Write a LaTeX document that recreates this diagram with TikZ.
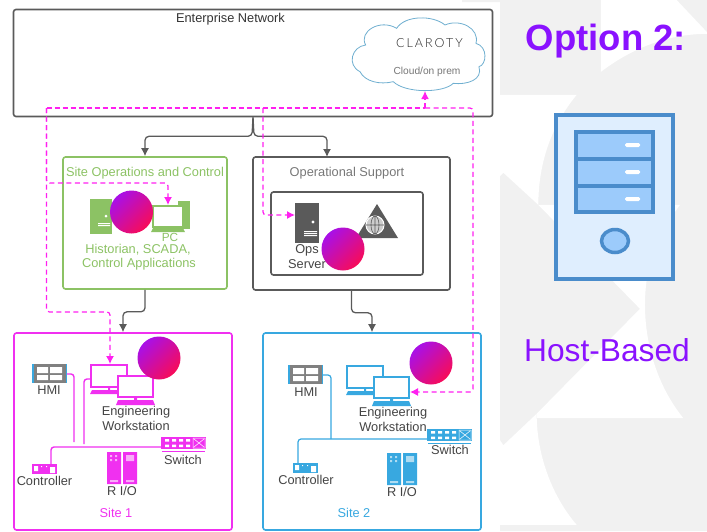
\documentclass[tikz,border=0pt]{standalone}
\usepackage{fontspec}
\setmainfont{Liberation Sans}
\newfontfamily\logofont{Lato Light}[LetterSpace=16]
\usetikzlibrary{positioning,arrows.meta}
\definecolor{linegray}{HTML}{5A5A5A}
\definecolor{textgray}{HTML}{444444}
\definecolor{softgray}{HTML}{777777}
\definecolor{panelgray}{HTML}{F1F1F1}
\definecolor{sitegreen}{HTML}{8CC264}
\definecolor{sitemag}{HTML}{F030F0}
\definecolor{siteblue}{HTML}{38A8E0}
\definecolor{dashmag}{HTML}{FF20F0}
\definecolor{optpurple}{HTML}{8A12FF}
\definecolor{rackblue}{HTML}{4A8CCB}
\definecolor{rackfill}{HTML}{9CCBFB}
\definecolor{caseblue}{HTML}{DFEEFE}
\definecolor{cloudblue}{HTML}{6FAFD0}
\definecolor{dotpurple}{HTML}{A810E8}
\definecolor{dotpink}{HTML}{E010B0}
\definecolor{dotrose}{HTML}{F80C58}
\tikzset{
  netbox/.style = {draw, rectangle, rounded corners=2.5, line width=1.6, inner sep=0},
  lbl/.style = {inner sep=0, font=\fontsize{12.8}{14}\selectfont, text=textgray},
  graylink/.style = {draw=linegray, line width=1.3, rounded corners=4, -{Latex[length=8pt,width=8pt]}},
  dashlink/.style = {draw=dashmag, line width=1.2, dash pattern=on 5pt off 3.5pt, rounded corners=3},
  dashbold/.style = {dashlink, line width=1.8, dash pattern=on 5.5pt off 2.5pt},
  dashtip/.style = {-{Latex[length=8pt,width=8pt]}},
  hostdot/.style = {circle, minimum size=43, inner sep=0, top color=dotpurple,
    middle color=dotpink, bottom color=dotrose, shading angle=45},
  pics/wsicon/.style = {code = {
    \path[draw=#1, line width=1.4, fill=white] (0,0) rectangle (36,22);
    \path[fill=#1] (17,22) rectangle (19,25) (1,25) -- (35,25) -- (37,29) -- (-1,29) -- cycle;
    \path[draw=#1, line width=1.4, fill=white] (27,11) rectangle (62,32);
    \path[fill=#1] (43,32) rectangle (46,35) (27,35) -- (62,35) -- (64,40) -- (25,40) -- cycle;
    \coordinate (-port) at (0,14);
  }},
  pics/hmicon/.style = {code = {
    \path[fill=siteblue] (0,0) rectangle (35,19);
    \path[fill=gray] (1.5,0) rectangle (33.5,19);
    \path[fill=white] (5,3) rectangle (16,9) (18,3) rectangle (30,9) (5,11) rectangle (16,16) (18,11) rectangle (30,16);
    \coordinate (-port) at (35,10);
  }},
  pics/rioicon/.style = {code = {
    \path[fill=#1] (0,0) rectangle (14,32) (16,0) rectangle (30,32);
    \path[fill=white, opacity=.6] (3,3) rectangle (5,5) (8,3) rectangle (10,5) (3,7) rectangle (5,9)
      (8,7) rectangle (10,9) (19,3) rectangle (27,9) (3,28) rectangle (11,30) (19,28) rectangle (27,30);
  }},
  pics/ctrlicon/.style = {code = {
    \path[fill=#1] (0,0) rectangle (25,10);
    \path[fill=white] (2,2) rectangle (6,7) (9,2) rectangle (10,3) (14,2) rectangle (15,3) (18,3) rectangle (23,9);
  }},
  pics/swicon/.style = {code = {
    \path[fill=#1] (0,0) rectangle (45,12);
    \foreach \col in {4,11,18,25} {
      \path[fill=white] (\col,2) rectangle ++(4,2.5) (\col,7.5) rectangle ++(4,2.5);
    }
    \path[draw=white, line width=.5] (32,1) rectangle (44,11) (33,2) -- (43,10) (33,10) -- (43,2);
    \path[draw=#1, line width=1] (1,14) -- (44,14);
    \coordinate (-port) at (0,10);
  }},
}
\begin{document}
\begin{tikzpicture}[x=1pt, y=-1pt]
  \useasboundingbox (0,0) rectangle (707,531);
  %panel behind the option text
  \path[fill=panelgray] (500,0) rectangle (707,531) (462,0) rectangle (500,2);
  \begin{scope}[shift={(495,0)}, x=0.3333pt, y=-0.3386pt]
    \path[fill=white] (318,0) -- (545,0) -- (636,95) -- (636,100) .. controls (510,100) and (400,150) .. (318,212) -- cycle;
    \path[fill=white] (15,280) -- (245,280) .. controls (170,370) and (130,480) .. (130,605) -- (25,510) -- (15,520) -- cycle;
    \path[fill=white] (130,605) -- (555,605) .. controls (470,720) and (450,810) .. (450,900)
      .. controls (450,1030) and (495,1150) .. (565,1235) -- (125,1235) -- (125,1222) -- (435,912) -- cycle;
    \path[fill=white] (15,1300) -- (25,1315) -- (125,1222) .. controls (125,1350) and (175,1470) .. (245,1550) -- (15,1550) -- cycle;
  \end{scope}
  %boxes
  \node[netbox, draw=linegray, minimum width=479, minimum height=107] (enterprise) at (253,63) {};
  \node[netbox, draw=sitegreen, minimum width=164, minimum height=132] (siteops) at (145,223) {};
  \node[netbox, draw=linegray, minimum width=197, minimum height=133] (opsupport) at (351.5,223.5) {};
  \node[netbox, draw=linegray, minimum width=152, minimum height=83] (opsinner) at (347,233.5) {};
  \node[netbox, draw=sitemag, minimum width=218, minimum height=197] (site1) at (123,431.5) {};
  \node[netbox, draw=siteblue, minimum width=218, minimum height=197] (site2) at (372,431.5) {};
  %cloud outline
  \begin{scope}[x=0.3333pt, y=-0.3333pt]
    \path[draw=cloudblue, line width=.8, fill=white] (1080,215) .. controls (1040,195) and (1055,140) .. (1097,135)
      .. controls (1075,95) and (1140,55) .. (1190,85) .. controls (1215,45) and (1300,45) .. (1335,75)
      .. controls (1380,55) and (1440,85) .. (1428,130) .. controls (1465,140) and (1460,195) .. (1437,200)
      .. controls (1450,240) and (1400,255) .. (1360,250) .. controls (1330,280) and (1215,280) .. (1180,245)
      .. controls (1140,255) and (1095,245) .. cycle;
  \end{scope}
  %labels
  \node[lbl, text=black!80] (enterlbl) at (230.5,19) {Enterprise Network};
  \node[inner sep=0, text=black!85, font=\logofont\fontsize{12.5}{13}\selectfont] (logolbl) at (429.5,43) {CLAROTY};
  \node[inner sep=0, text=softgray, font=\fontsize{10.2}{12}\selectfont] (cloudlbl) at (427,72) {Cloud/on prem};
  \node[lbl, text=sitegreen] (opslbl) at (145,173) {Site Operations and Control};
  \node[lbl, text=softgray] (supportlbl) at (347,173) {Operational Support};
  \node[lbl, text=sitegreen, font=\fontsize{11.8}{13}\selectfont] (pclbl) at (170,237) {PC};
  \node[lbl, text=sitegreen] (histlbl) at (138,250) {Historian, SCADA,};
  \node[lbl, text=sitegreen] (ctrlapplbl) at (139,264) {Control Applications};
  \node[lbl] (opsrvlbl) at (307,250) {Ops};
  \node[lbl] (srvlbl) at (307,264) {Server};
  \node[lbl] (hmi1lbl) at (49,390.5) {HMI};
  \node[lbl] (eng1lbl) at (136,412.5) {Engineering};
  \node[lbl] (wks1lbl) at (136,426) {Workstation};
  \node[lbl] (sw1lbl) at (183,460) {Switch};
  \node[lbl] (ctrl1lbl) at (44.5,481) {Controller};
  \node[lbl] (rio1lbl) at (122,491) {R I/O};
  \node[lbl, text=sitemag] (site1lbl) at (116,513) {Site 1};
  \node[lbl] (hmi2lbl) at (306,392) {HMI};
  \node[lbl] (eng2lbl) at (393,413.5) {Engineering};
  \node[lbl] (wks2lbl) at (393,427) {Workstation};
  \node[lbl] (sw2lbl) at (450,450) {Switch};
  \node[lbl] (ctrl2lbl) at (306,480) {Controller};
  \node[lbl] (rio2lbl) at (402,492) {R I/O};
  \node[lbl, text=siteblue] (site2lbl) at (354,513) {Site 2};
  %site icons
  \pic (ws1) at (91,365) {wsicon=sitemag};
  \pic (hmi1) at (32,364) {hmicon};
  \pic at (107,452) {rioicon=sitemag};
  \pic at (32,464) {ctrlicon=sitemag};
  \pic (sw1) at (161,437) {swicon=sitemag};
  \pic (ws2) at (347,366) {wsicon=siteblue};
  \pic (hmi2) at (288,365) {hmicon};
  \pic at (387,453) {rioicon=siteblue};
  \pic at (293,463) {ctrlicon=siteblue};
  \pic (sw2) at (427,429) {swicon=siteblue};
  %historian and pc
  \path[fill=sitegreen] (90,199) rectangle (112,234);
  \path[fill=white] (106,216) circle (1.5) (98,223) rectangle (110,224) (98,225) rectangle (110,226);
  \path[fill=sitegreen] (178,201) rectangle (190,229);
  \path[draw=sitegreen, line width=1.3, fill=white] (153,206) rectangle (183,227);
  \path[fill=sitegreen] (153,228) -- (183,228) -- (185,232) -- (151,232) -- cycle;
  %ops server and globe
  \node[fill=linegray, minimum width=24, minimum height=40, inner sep=0] (opsserver) at (307,223) {};
  \path[fill=white] (313,222) circle (1.6) (304,231) rectangle (317,232) (304,233) rectangle (317,234) (304,235) rectangle (317,236);
  \path[fill=linegray] (377,204) -- (398,238) -- (356,238) -- cycle;
  \path[draw=white, line width=1, fill=gray!40] (375,225) circle (9);
  \path[draw=linegray, line width=.6] (375,216) -- (375,234) (366,225) -- (384,225) (375,225) ellipse (4 and 9);
  %dashed entry points
  \coordinate (dashnw) at (46.5,108);
  \coordinate (dashmid) at (263,108);
  \coordinate (dashfoot) at (425,108);
  \coordinate (dashne) at (473,108);
  \coordinate (cloudin) at (425,91);
  \coordinate (pcin) at (168,205);
  \coordinate (ws1in) at (110,364);
  \coordinate (ws2in) at (410,392);
  \coordinate (opsin) at (295,215);
  \coordinate (supportin) at (327,157);
  \coordinate (bus1a) at (74,442);
  \coordinate (bus1b) at (84,444);
  \coordinate (ctrl1in) at (51,464);
  \coordinate (bus2a) at (331,439);
  \coordinate (ctrl2in) at (298,463);
  %edges
  \path[graylink] (enterprise.south) -- ++(-1,19) -| (siteops.north);
  \path[graylink] (enterprise.south) -- ++(1,19) -| (supportin);
  \path[graylink] (siteops.south) -- ++(0,22) -| (site1.north);
  \path[graylink] (opsupport.south) -- ++(0,22) -| (site2.north);
  \path[draw=sitemag, line width=1.4, rounded corners=3] (hmi1-port) -| (bus1a);
  \path[draw=sitemag, line width=1.4, rounded corners=3] (ws1-port) -| (bus1b);
  \path[draw=sitemag, line width=1.4, rounded corners=3] (ctrl1in) |- (sw1-port);
  \path[draw=siteblue, line width=1.2, rounded corners=3] (hmi2-port) -| (bus2a);
  \path[draw=siteblue, line width=1.2, rounded corners=3] (ctrl2in) |- (sw2-port);
  \path[dashbold] (dashnw) -- (dashfoot);
  \path[dashbold, dashtip] (dashfoot) -- (cloudin);
  \path[dashlink, dashtip] (dashfoot) -- (dashne) |- (ws2in);
  \path[dashlink, dashtip] (dashmid) |- (opsin);
  \path[dashlink, dashtip] (dashnw) |- (168,183) -- (pcin);
  \path[dashlink, dashtip] (dashnw) |- (110,312) -- (ws1in);
  %gradient discs
  \node[hostdot] (dot1) at (131.5,212) {};
  \node[hostdot] (dot2) at (343,249) {};
  \node[hostdot] (dot3) at (159,358) {};
  \node[hostdot] (dot4) at (431,363) {};
  %option panel
  \node[inner sep=0, text=optpurple, font=\bfseries\fontsize{36.5}{40}\selectfont] (optlbl) at (606,41) {Option 2:};
  \node[inner sep=0, text=optpurple, font=\fontsize{31.7}{34}\selectfont] (hostlbl) at (607,350) {Host-Based};
  \path[draw=rackblue, line width=4, fill=caseblue] (556,115) rectangle (673,279);
  \path[draw=rackblue, line width=4, fill=rackfill] (576,132) rectangle (653,212);
  \path[draw=rackblue, line width=4] (576,158.5) -- (653,158.5) (576,185.5) -- (653,185.5);
  \foreach \ledy in {145,172,199} {
    \path[fill=white, rounded corners=1.5] (625,\ledy-2) rectangle (640,\ledy+2);
  }
  \path[draw=rackblue, line width=3.5, fill=rackfill] (615,241) ellipse (13.5 and 11.5);
\end{tikzpicture}
\end{document}
